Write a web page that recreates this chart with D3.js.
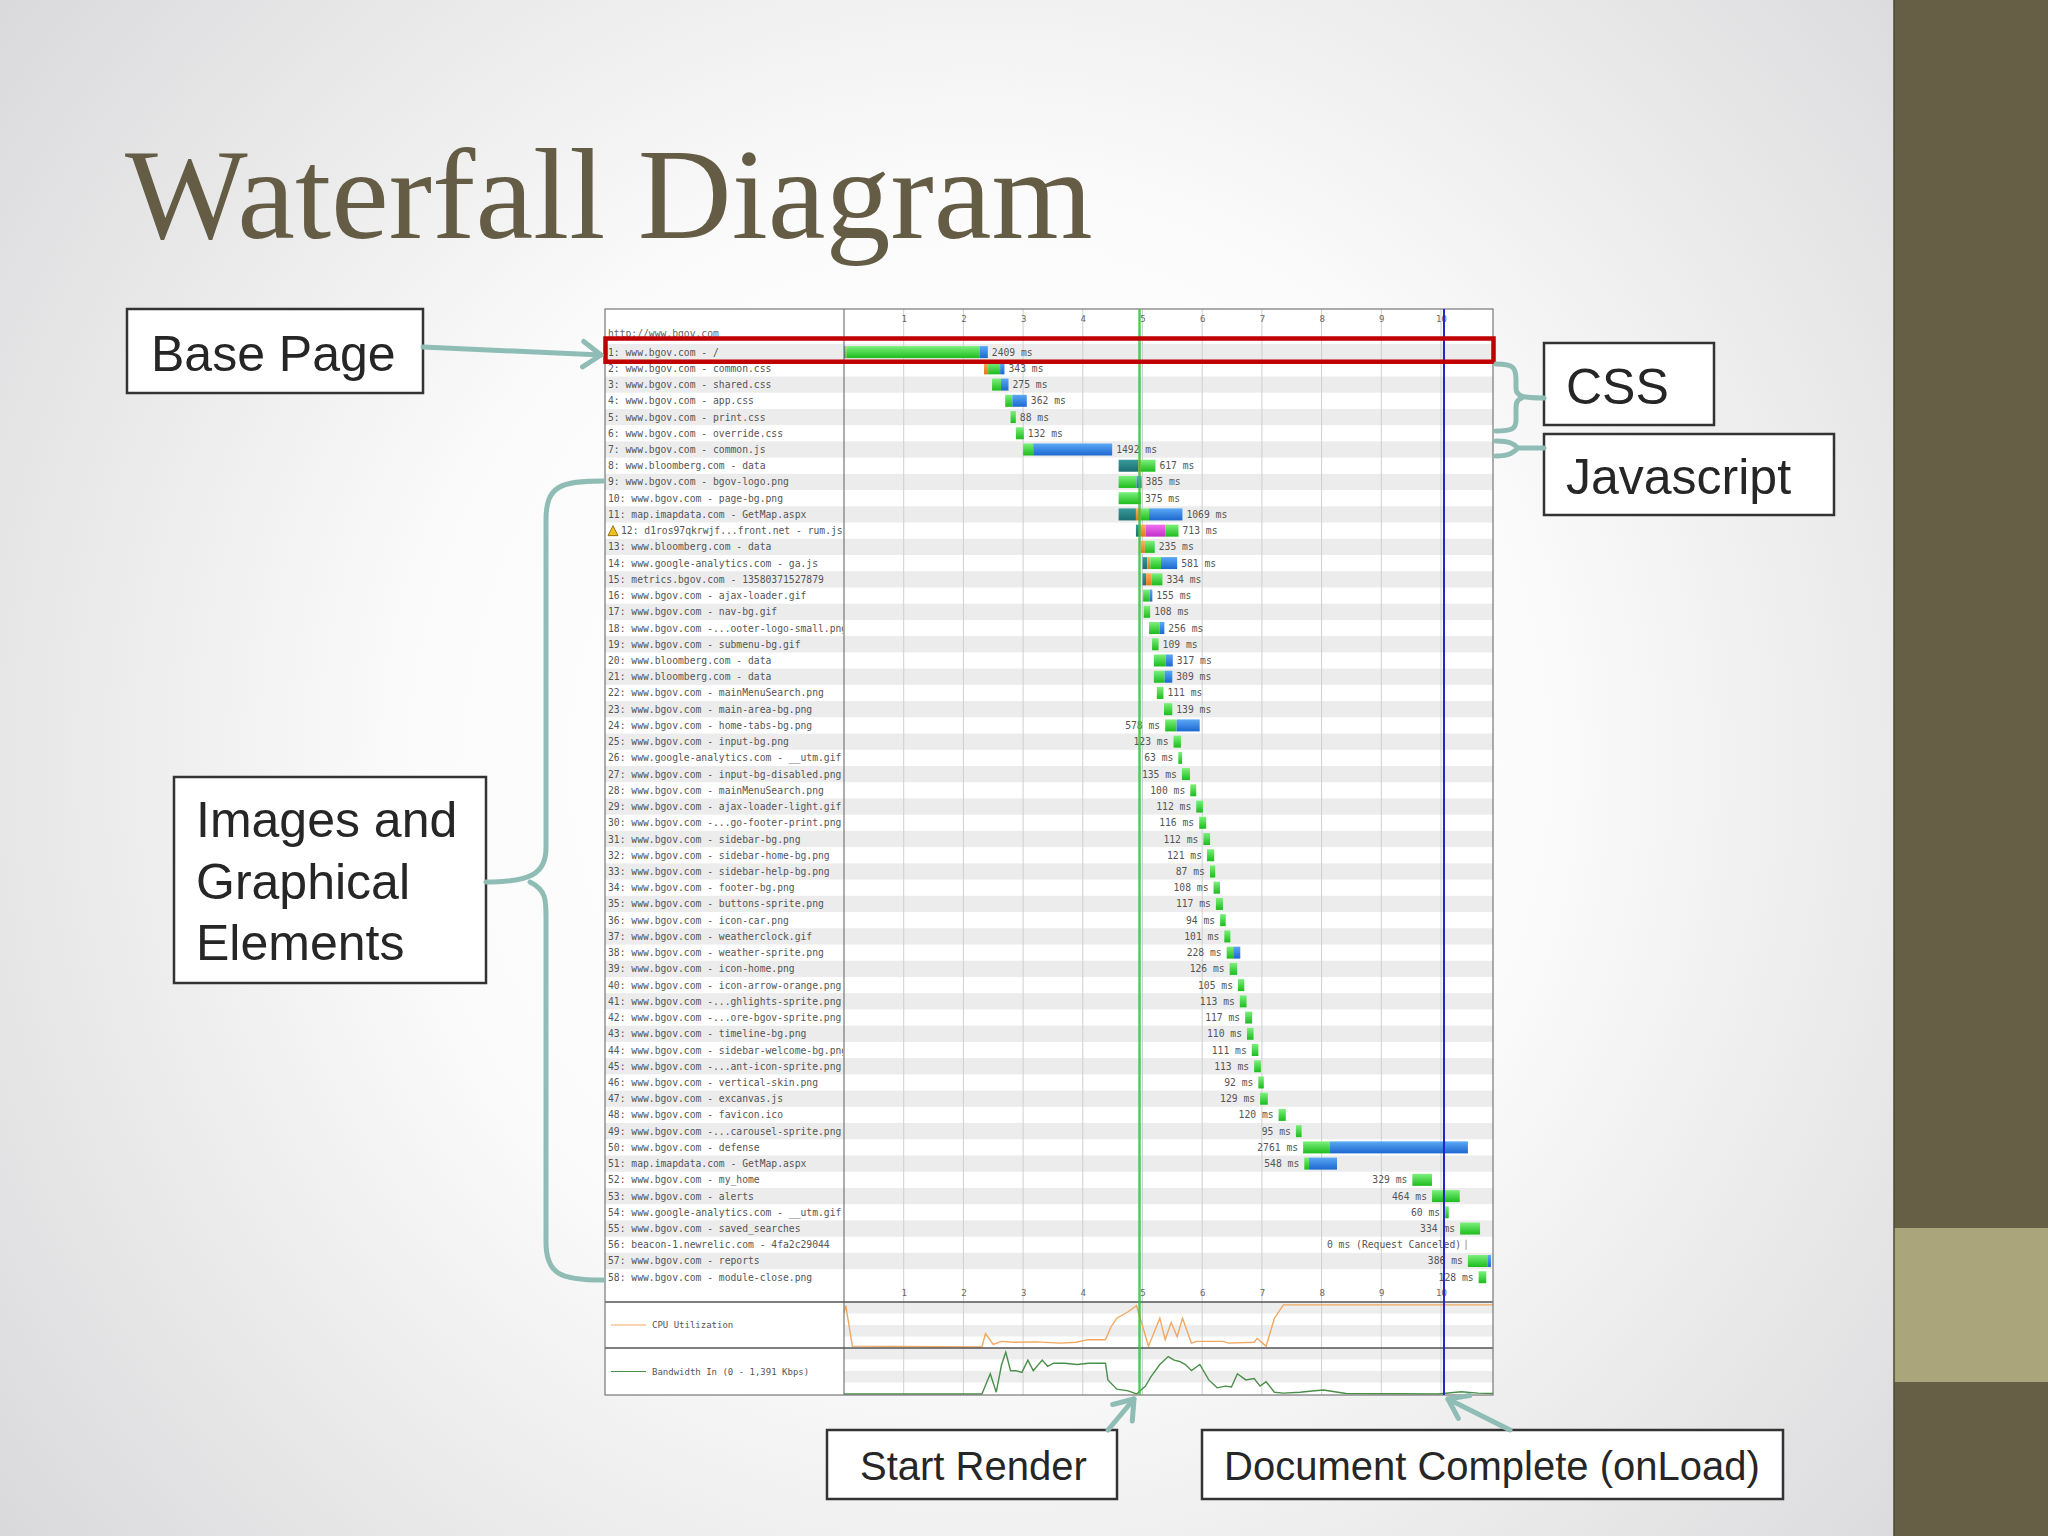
<!DOCTYPE html>
<html>
<head>
<meta charset="utf-8">
<script src="https://cdn.jsdelivr.net/npm/d3@7"></script>
<style>
  html, body { margin: 0; padding: 0; background: #fff; }
  svg { display: block; }
</style>
</head>
<body>
<script>
// request rows of the waterfall (host - object)
const requestLabels = [
  "www.bgov.com - /", "www.bgov.com - common.css", "www.bgov.com - shared.css",
  "www.bgov.com - app.css", "www.bgov.com - print.css", "www.bgov.com - override.css",
  "www.bgov.com - common.js", "www.bloomberg.com - data", "www.bgov.com - bgov-logo.png",
  "www.bgov.com - page-bg.png", "map.imapdata.com - GetMap.aspx", "d1ros97qkrwjf...front.net - rum.js",
  "www.bloomberg.com - data", "www.google-analytics.com - ga.js", "metrics.bgov.com - 13580371527879",
  "www.bgov.com - ajax-loader.gif", "www.bgov.com - nav-bg.gif", "www.bgov.com -...ooter-logo-small.png",
  "www.bgov.com - submenu-bg.gif", "www.bloomberg.com - data", "www.bloomberg.com - data",
  "www.bgov.com - mainMenuSearch.png", "www.bgov.com - main-area-bg.png", "www.bgov.com - home-tabs-bg.png",
  "www.bgov.com - input-bg.png", "www.google-analytics.com - __utm.gif", "www.bgov.com - input-bg-disabled.png",
  "www.bgov.com - mainMenuSearch.png", "www.bgov.com - ajax-loader-light.gif", "www.bgov.com -...go-footer-print.png",
  "www.bgov.com - sidebar-bg.png", "www.bgov.com - sidebar-home-bg.png", "www.bgov.com - sidebar-help-bg.png",
  "www.bgov.com - footer-bg.png", "www.bgov.com - buttons-sprite.png", "www.bgov.com - icon-car.png",
  "www.bgov.com - weatherclock.gif", "www.bgov.com - weather-sprite.png", "www.bgov.com - icon-home.png",
  "www.bgov.com - icon-arrow-orange.png", "www.bgov.com -...ghlights-sprite.png", "www.bgov.com -...ore-bgov-sprite.png",
  "www.bgov.com - timeline-bg.png", "www.bgov.com - sidebar-welcome-bg.png", "www.bgov.com -...ant-icon-sprite.png",
  "www.bgov.com - vertical-skin.png", "www.bgov.com - excanvas.js", "www.bgov.com - favicon.ico",
  "www.bgov.com -...carousel-sprite.png", "www.bgov.com - defense", "map.imapdata.com - GetMap.aspx",
  "www.bgov.com - my_home", "www.bgov.com - alerts", "www.google-analytics.com - __utm.gif",
  "www.bgov.com - saved_searches", "beacon-1.newrelic.com - 4fa2c29044", "www.bgov.com - reports",
  "www.bgov.com - module-close.png"
];

// timings in ms
const startMs = [
  0, 2345, 2480, 2700, 2790, 2880, 3000, 4600, 4600, 4600,
  4600, 4890, 4970, 5000, 5000, 5010, 5020, 5110, 5160, 5190,
  5190, 5240, 5360, 5380, 5520, 5600, 5660, 5800, 5900, 5950,
  6020, 6080, 6130, 6190, 6230, 6300, 6370, 6410, 6460, 6600,
  6630, 6720, 6750, 6830, 6870, 6940, 6970, 7280, 7570, 7690,
  7710, 9520, 9850, 10070, 10320, 10420, 10450, 10630
];
const dnsMs = [
  15, 0, 0, 0, 0, 0, 0, 330, 0, 0,
  290, 60, 0, 80, 60, 0, 0, 0, 0, 0,
  0, 0, 0, 0, 0, 0, 0, 0, 0, 0,
  0, 0, 0, 0, 0, 0, 0, 0, 0, 0,
  0, 0, 0, 0, 0, 0, 0, 0, 0, 0,
  0, 0, 0, 0, 0, 0, 0, 0
];
const connectMs = [
  25, 70, 0, 0, 0, 0, 0, 40, 0, 0,
  80, 100, 70, 50, 90, 0, 0, 0, 0, 0,
  0, 0, 0, 0, 0, 0, 0, 0, 0, 0,
  0, 0, 0, 0, 0, 0, 0, 0, 0, 0,
  0, 0, 0, 0, 0, 0, 0, 0, 0, 0,
  0, 0, 0, 0, 0, 0, 0, 0
];
const sslMs = [
  0, 0, 0, 0, 0, 0, 0, 0, 0, 0,
  0, 330, 0, 0, 0, 0, 0, 0, 0, 0,
  0, 0, 0, 0, 0, 0, 0, 0, 0, 0,
  0, 0, 0, 0, 0, 0, 0, 0, 0, 0,
  0, 0, 0, 0, 0, 0, 0, 0, 0, 0,
  0, 0, 0, 0, 0, 0, 0, 0
];
const ttfbMs = [
  2235, 200, 150, 120, 88, 132, 170, 247, 300, 375,
  140, 223, 165, 180, 184, 110, 108, 180, 109, 200,
  180, 111, 139, 190, 123, 63, 135, 100, 112, 116,
  112, 121, 87, 108, 117, 94, 101, 110, 126, 105,
  113, 117, 110, 111, 113, 92, 129, 120, 95, 450,
  80, 329, 464, 60, 334, 0, 330, 128
];
const downloadMs = [
  134, 73, 125, 242, 0, 0, 1322, 0, 85, 0,
  559, 0, 0, 271, 0, 45, 0, 76, 0, 117,
  129, 0, 0, 388, 0, 0, 0, 0, 0, 0,
  0, 0, 0, 0, 0, 0, 0, 118, 0, 0,
  0, 0, 0, 0, 0, 0, 0, 0, 0, 2311,
  468, 0, 0, 0, 0, 0, 56, 0
];
const canceledRows = [56];
const warningRows = [12];

const secondTicks = [1, 2, 3, 4, 5, 6, 7, 8, 9, 10];
const startRenderSec = 4.95;
const docCompleteSec = 10.05;

// CPU utilisation (%) over time (s)
const cpuSec = [0, 0.03, 0.14, 2.31, 2.37, 2.5, 2.64, 2.84, 3.22, 3.61, 3.89, 4.09, 4.38, 4.47, 4.57, 4.76, 4.9, 5.1,
  5.29, 5.38, 5.48, 5.58, 5.67, 5.82, 5.91, 6.35, 6.44, 6.87, 6.92, 7.07, 7.21, 7.36, 10.87];
const cpuPct = [80, 96, 2, 0, 31, 6, 13, 11, 12, 9, 11, 17, 17, 46, 67, 82, 96, 2,
  67, 17, 57, 24, 67, 9, 13, 13, 9, 11, 20, 2, 67, 98, 98];

// Bandwidth in (Kbps) over time (s)
const bwMaxKbps = 1391;
const bwSec = [0, 2.31, 2.45, 2.55, 2.64, 2.71, 2.79, 2.88, 2.98, 3.08, 3.17, 3.32, 3.41, 3.51, 3.7, 3.9, 4.1, 4.38,
  4.42, 4.57, 4.76, 4.9, 5.05, 5.14, 5.29, 5.43, 5.53, 5.62, 5.72, 5.82, 5.96, 6.11, 6.25, 6.39, 6.49, 6.59,
  6.73, 6.87, 6.97, 7.07, 7.21, 7.36, 7.64, 7.84, 8.03, 8.22, 8.41, 9.95, 10.34, 10.62, 10.87];
const bwKbps = [0, 0, 640, 56, 932, 1321, 737, 737, 682, 1071, 737, 1071, 876, 974, 974, 932, 974, 974,
  445, 153, 97, 0, 250, 542, 932, 1182, 1071, 1029, 932, 737, 932, 445, 195, 250, 223, 640,
  445, 487, 250, 389, 56, 28, 56, 97, 125, 70, 14, 0, 70, 28, 14];

const W = 2048, H = 1536;
const chartLeft = 605, labelRight = 844, chartRight = 1493;
const chartTop = 309, rowsTop = 344, rowH = 16.23;
const rowsBottom = rowsTop + rowH * requestLabels.length;
const cpuTop = 1302, bwTop = 1348, chartBottom = 1395;
const teal = "#8fbdb5";
const ink = "#262626";

const svg = d3.select("body").append("svg")
  .attr("width", W)
  .attr("height", H);

const defs = svg.append("defs");
const bg = defs.append("radialGradient").attr("id", "slideBg")
  .attr("gradientUnits", "userSpaceOnUse")
  .attr("cx", 980).attr("cy", 760).attr("r", 1250);
bg.append("stop").attr("offset", "0%").attr("stop-color", "#ffffff");
bg.append("stop").attr("offset", "45%").attr("stop-color", "#fbfbfb");
bg.append("stop").attr("offset", "100%").attr("stop-color", "#d9d9db");

function vGrad(id, top, bottom) {
  const g = defs.append("linearGradient").attr("id", id)
    .attr("x1", 0).attr("y1", 0).attr("x2", 0).attr("y2", 1);
  g.append("stop").attr("offset", "0%").attr("stop-color", top);
  g.append("stop").attr("offset", "100%").attr("stop-color", bottom);
}
vGrad("gTtfb", "#7cf07c", "#1cbc1c");
vGrad("gDl", "#5aa8f4", "#1c68d0");
vGrad("gDns", "#3a9a9a", "#1a6e72");
vGrad("gConn", "#ffb060", "#e07818");
vGrad("gSsl", "#f070f0", "#c030c8");

defs.append("clipPath").attr("id", "labelClip")
  .append("rect").attr("x", chartLeft).attr("y", chartTop)
  .attr("width", labelRight - chartLeft - 1).attr("height", chartBottom - chartTop);

// slide background and right-hand bands
svg.append("rect").attr("width", 1894).attr("height", H).attr("fill", "url(#slideBg)");
svg.append("rect").attr("x", 1894).attr("width", W - 1894).attr("height", H).attr("fill", "#675e46");
svg.append("rect").attr("x", 1894).attr("y", 1228).attr("width", W - 1894).attr("height", 154).attr("fill", "#aaa57a");
svg.append("line").attr("x1", 1894).attr("x2", 1894).attr("y1", 0).attr("y2", H)
  .attr("stroke", "#4e4835").attr("stroke-width", 1.5);

// title
svg.append("text")
  .attr("x", 125).attr("y", 238)
  .attr("font-family", "Liberation Serif, serif")
  .attr("font-size", 130)
  .attr("fill", "#645c44")
  .text("Waterfall Diagram");

// ---- waterfall chart ----
const x = d3.scaleLinear().domain([0, 10.871]).range([labelRight, chartRight]);
const y = d3.scaleBand().domain(d3.range(requestLabels.length)).range([rowsTop, rowsBottom]);
const yCpu = d3.scaleLinear().domain([0, 100]).range([bwTop - 1, cpuTop + 2]);
const yBw = d3.scaleLinear().domain([0, bwMaxKbps]).range([chartBottom - 1, bwTop + 2]);

const chart = svg.append("g");
chart.append("rect")
  .attr("x", chartLeft).attr("y", chartTop)
  .attr("width", chartRight - chartLeft).attr("height", chartBottom - chartTop)
  .attr("fill", "#fff");

// alternating row bands
chart.selectAll(".band")
  .data(d3.range(requestLabels.length).filter(i => i % 2 === 0))
  .enter().append("rect")
  .attr("x", chartLeft).attr("y", i => y(i))
  .attr("width", chartRight - chartLeft).attr("height", y.bandwidth())
  .attr("fill", "#ececec");

// stripes behind CPU / bandwidth graphs
const stripeH = (bwTop - cpuTop) / 4;
chart.selectAll(".stripe")
  .data(d3.range(8).filter(i => i % 2 === 0))
  .enter().append("rect")
  .attr("x", labelRight).attr("width", chartRight - labelRight)
  .attr("y", i => (i < 4 ? cpuTop : bwTop) + (i % 4) * stripeH)
  .attr("height", stripeH)
  .attr("fill", "#ededed");

// vertical second gridlines
chart.selectAll(".grid")
  .data(secondTicks)
  .enter().append("line")
  .attr("x1", d => x(d)).attr("x2", d => x(d))
  .attr("y1", chartTop).attr("y2", chartBottom)
  .attr("stroke", "#cfcfcf").attr("stroke-width", 1);

// axes (tick labels only)
const axisTop = chart.append("g")
  .attr("transform", `translate(0,${chartTop + 13})`)
  .call(d3.axisTop(x).tickValues(secondTicks).tickFormat(d3.format("d")).tickSize(0).tickPadding(0));
const axisBot = chart.append("g")
  .attr("transform", `translate(0,${rowsBottom})`)
  .call(d3.axisBottom(x).tickValues(secondTicks).tickFormat(d3.format("d")).tickSize(0).tickPadding(4));
[axisTop, axisBot].forEach(a => {
  a.select(".domain").remove();
  a.selectAll("text").attr("font-family", "DejaVu Sans Mono, monospace")
    .attr("font-size", 9).attr("fill", "#666");
});

// header url
chart.append("text")
  .attr("x", chartLeft + 3).attr("y", rowsTop - 7)
  .attr("font-family", "DejaVu Sans Mono, monospace").attr("font-size", 9.7).attr("fill", "#666")
  .text("http://www.bgov.com");

// row labels
const labelFont = "DejaVu Sans Mono, monospace";
chart.append("g").attr("clip-path", "url(#labelClip)")
  .selectAll(".rowLabel")
  .data(requestLabels)
  .enter().append("text")
  .attr("x", (d, i) => chartLeft + 3 + (warningRows.includes(i + 1) ? 13 : 0))
  .attr("y", (d, i) => y(i) + y.bandwidth() / 2 + 3.5)
  .attr("font-family", labelFont).attr("font-size", 9.7).attr("fill", "#555")
  .text((d, i) => `${i + 1}: ${d}`);

// warning triangle
chart.selectAll(".warn")
  .data(warningRows)
  .enter().append("path")
  .attr("d", r => {
    const cy = y(r - 1) + y.bandwidth() / 2;
    return `M${chartLeft + 3},${cy + 5} L${chartLeft + 8},${cy - 5} L${chartLeft + 13},${cy + 5} Z`;
  })
  .attr("fill", "#f2c11c").attr("stroke", "#7a5a00").attr("stroke-width", 0.8);

// bar segments
const phases = [
  { key: "dns", vals: dnsMs, fill: "url(#gDns)" },
  { key: "connect", vals: connectMs, fill: "url(#gConn)" },
  { key: "ssl", vals: sslMs, fill: "url(#gSsl)" },
  { key: "ttfb", vals: ttfbMs, fill: "url(#gTtfb)" },
  { key: "download", vals: downloadMs, fill: "url(#gDl)" }
];
const segments = [];
requestLabels.forEach((_, i) => {
  let t = startMs[i];
  phases.forEach(p => {
    const v = p.vals[i];
    if (v > 0) segments.push({ row: i, t0: t / 1000, t1: (t + v) / 1000, fill: p.fill });
    t += v;
  });
});
const barH = 12;
chart.selectAll(".seg")
  .data(segments)
  .enter().append("rect")
  .attr("x", d => x(d.t0))
  .attr("width", d => Math.max(1.5, x(d.t1) - x(d.t0)))
  .attr("y", d => y(d.row) + (y.bandwidth() - barH) / 2)
  .attr("height", barH)
  .attr("fill", d => d.fill);

// canceled request marker
chart.selectAll(".cancel")
  .data(canceledRows)
  .enter().append("line")
  .attr("x1", r => x(startMs[r - 1] / 1000)).attr("x2", r => x(startMs[r - 1] / 1000))
  .attr("y1", r => y(r - 1) + 3).attr("y2", r => y(r - 1) + y.bandwidth() - 3)
  .attr("stroke", "#999").attr("stroke-width", 1);

// duration labels
chart.selectAll(".dur")
  .data(requestLabels.map((_, i) => i))
  .enter().append("text")
  .each(function (i) {
    const total = dnsMs[i] + connectMs[i] + sslMs[i] + ttfbMs[i] + downloadMs[i];
    const left = i >= 23;
    const canceled = canceledRows.includes(i + 1);
    d3.select(this)
      .attr("x", left ? x(startMs[i] / 1000) - 5 : x((startMs[i] + total) / 1000) + 4)
      .attr("text-anchor", left ? "end" : "start")
      .text(canceled ? "0 ms (Request Canceled)" : `${total} ms`);
  })
  .attr("y", i => y(i) + y.bandwidth() / 2 + 3.5)
  .attr("font-family", labelFont).attr("font-size", 9.7).attr("fill", "#555");

// CPU and bandwidth lines
chart.append("path")
  .datum(cpuSec.map((t, i) => [t, cpuPct[i]]))
  .attr("d", d3.line().x(d => x(d[0])).y(d => yCpu(d[1])))
  .attr("fill", "none").attr("stroke", "#f0a860").attr("stroke-width", 1.4);
chart.append("path")
  .datum(bwSec.map((t, i) => [t, bwKbps[i]]))
  .attr("d", d3.line().x(d => x(d[0])).y(d => yBw(d[1])))
  .attr("fill", "none").attr("stroke", "#4a8f4a").attr("stroke-width", 1.4);

// legends for the two graphs
[
  { yy: (cpuTop + bwTop) / 2, color: "#f0a860", text: "CPU Utilization" },
  { yy: (bwTop + chartBottom) / 2, color: "#4a8f4a", text: "Bandwidth In (0 - 1,391 Kbps)" }
].forEach(l => {
  chart.append("line").attr("x1", 611).attr("x2", 646).attr("y1", l.yy).attr("y2", l.yy)
    .attr("stroke", l.color).attr("stroke-width", 1.2);
  chart.append("text").attr("x", 652).attr("y", l.yy + 3)
    .attr("font-family", labelFont).attr("font-size", 9).attr("fill", "#555").text(l.text);
});

// frame lines
chart.append("line").attr("x1", labelRight).attr("x2", labelRight).attr("y1", chartTop).attr("y2", chartBottom)
  .attr("stroke", "#777").attr("stroke-width", 1.2);
[cpuTop, bwTop].forEach(yy => {
  chart.append("line").attr("x1", chartLeft).attr("x2", chartRight).attr("y1", yy).attr("y2", yy)
    .attr("stroke", "#555").attr("stroke-width", 1.5);
});
chart.append("rect")
  .attr("x", chartLeft).attr("y", chartTop)
  .attr("width", chartRight - chartLeft).attr("height", chartBottom - chartTop)
  .attr("fill", "none").attr("stroke", "#777").attr("stroke-width", 1.2);

// start render / document complete markers
chart.append("line")
  .attr("x1", x(startRenderSec)).attr("x2", x(startRenderSec))
  .attr("y1", chartTop).attr("y2", chartBottom)
  .attr("stroke", "#3cbf3c").attr("stroke-width", 2.5).attr("opacity", 0.85);
chart.append("line")
  .attr("x1", x(docCompleteSec)).attr("x2", x(docCompleteSec))
  .attr("y1", chartTop).attr("y2", chartBottom)
  .attr("stroke", "#2424cc").attr("stroke-width", 2);

// base page highlight
chart.append("rect")
  .attr("x", chartLeft + 0.5).attr("y", y(0) - 5.5)
  .attr("width", chartRight - chartLeft).attr("height", y.bandwidth() + 7)
  .attr("fill", "none").attr("stroke", "#c00000").attr("stroke-width", 4.5);

// ---- callouts ----
const notes = svg.append("g");

function box(x0, y0, w, h) {
  notes.append("rect").attr("x", x0).attr("y", y0).attr("width", w).attr("height", h)
    .attr("fill", "#fff").attr("stroke", "#333").attr("stroke-width", 2.5);
}
function label(lines, x0, y0, size, lh) {
  const t = notes.append("text").attr("font-family", "Liberation Sans, Arial, sans-serif")
    .attr("font-size", size).attr("fill", ink);
  lines.forEach((s, k) => t.append("tspan").attr("x", x0).attr("y", y0 + k * lh).text(s));
}
function arrow(x1, y1, x2, y2) {
  notes.append("line").attr("x1", x1).attr("y1", y1).attr("x2", x2).attr("y2", y2)
    .attr("stroke", teal).attr("stroke-width", 5).attr("stroke-linecap", "round");
  const a = Math.atan2(y2 - y1, x2 - x1), L = 22, s = 0.62;
  const p1 = [x2 - L * Math.cos(a - s), y2 - L * Math.sin(a - s)];
  const p2 = [x2 - L * Math.cos(a + s), y2 - L * Math.sin(a + s)];
  notes.append("path").attr("d", `M${p1} L${x2},${y2} L${p2}`)
    .attr("fill", "none").attr("stroke", teal).attr("stroke-width", 5)
    .attr("stroke-linecap", "round").attr("stroke-linejoin", "round");
}
function brace(d) {
  notes.append("path").attr("d", d).attr("fill", "none").attr("stroke", teal)
    .attr("stroke-width", 5).attr("stroke-linecap", "round").attr("stroke-linejoin", "round");
}

box(127, 309, 296, 84);
label(["Base Page"], 151, 371, 50, 0);
arrow(423, 347, 601, 355);

box(1544, 343, 170, 82);
label(["CSS"], 1566, 404, 50, 0);
brace("M1496,364 C1514,364 1516,368 1516,380 L1516,388 C1516,396 1522,398 1544,398 " +
      "M1522,398 C1516,400 1516,404 1516,410 L1516,420 C1516,429 1512,431 1496,431");

box(1544, 434, 290, 81);
label(["Javascript"], 1566, 494, 50, 0);
brace("M1496,441 C1510,441 1514,444 1518,448 C1514,452 1510,456 1496,456 M1518,448 L1544,448");

box(174, 777, 312, 206);
label(["Images and", "Graphical", "Elements"], 196, 837, 50, 61.5);
brace("M603,481 C560,481 546,486 546,520 L546,848 C546,874 530,882 486,882 " +
      "M530,882 C546,890 546,900 546,916 L546,1242 C546,1274 560,1280 603,1280");

box(827, 1430, 290, 69);
label(["Start Render"], 860, 1480, 40, 0);
arrow(1108, 1430, 1134, 1399);

box(1202, 1430, 581, 69);
label(["Document Complete (onLoad)"], 1224, 1480, 40, 0);
arrow(1510, 1430, 1448, 1399);
</script>
</body>
</html>
